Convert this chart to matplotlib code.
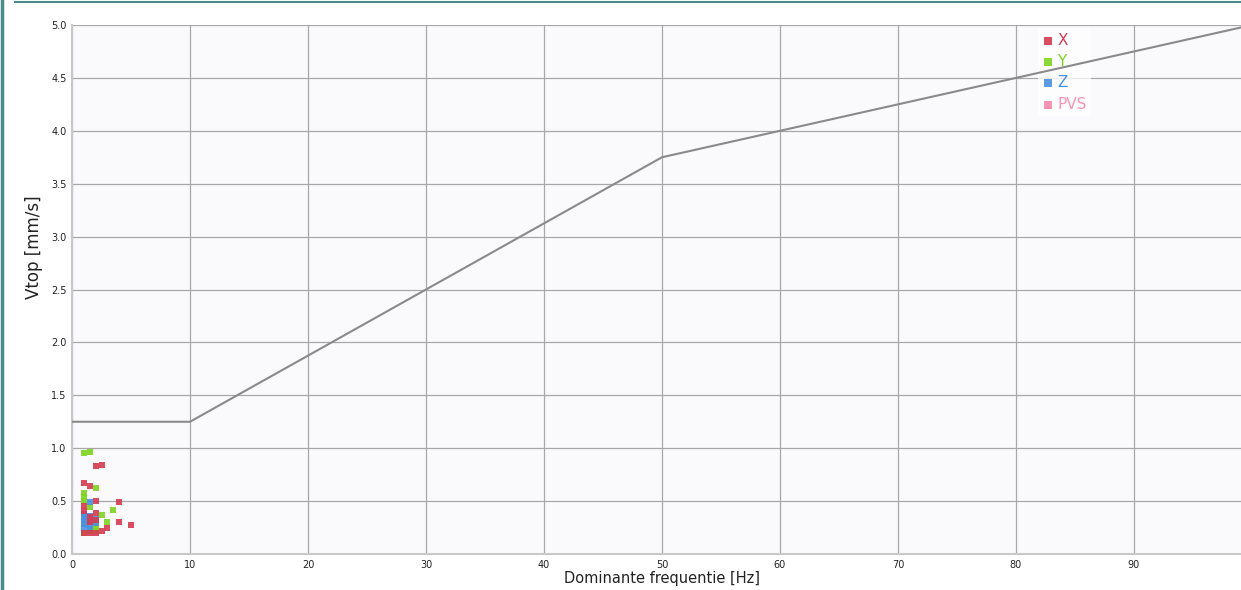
import matplotlib
matplotlib.use('Agg')
import matplotlib.pyplot as plt
from matplotlib.lines import Line2D

# grenslijn (SBR-richtlijn)
limit_f = [0, 10, 50, 100]
limit_v = [1.25, 1.25, 3.75, 5.0]

# metingen: dominante frequentie [Hz] en Vtop [mm/s]
x_f = [1.0, 1.5, 2.0, 2.5, 2.0, 4.0, 1.0, 1.0, 2.0, 1.5, 2.0, 3.0, 2.5, 4.0, 5.0, 1.0, 1.5, 2.0, 1.5]
x_v = [0.67, 0.64, 0.83, 0.84, 0.50, 0.49, 0.45, 0.41, 0.39, 0.30, 0.32, 0.25, 0.22, 0.30, 0.27, 0.20, 0.20, 0.20, 0.35]

y_f = [1.0, 1.5, 2.0, 1.0, 1.0, 1.0, 1.5, 3.5, 2.5, 3.0, 1.0, 1.5, 2.0, 2.0, 1.0, 2.0]
y_v = [0.95, 0.96, 0.62, 0.58, 0.54, 0.50, 0.44, 0.42, 0.37, 0.30, 0.20, 0.22, 0.22, 0.28, 0.30, 0.25]

z_f = [1.5, 1.0, 1.0, 1.0, 1.0, 1.0, 1.5, 1.5, 1.5, 2.0, 2.0, 1.5]
z_v = [0.49, 0.38, 0.35, 0.32, 0.28, 0.25, 0.36, 0.30, 0.27, 0.33, 0.29, 0.24]

pvs_f = []
pvs_v = []

c_x = '#d63a4f'
c_y = '#7ed321'
c_z = '#4a90e2'
c_pvs = '#f895b5'

fig = plt.figure(figsize=(12.41, 5.90), dpi=100)
ax = fig.add_axes([72 / 1241, 36 / 590, 1180 / 1241, 529 / 590])
ax.set_facecolor('#fafafd')

ax.plot(limit_f, limit_v, color='#8a8a8a', linewidth=1.5, zorder=6)

ms = 14
ax.scatter(x_f, x_v, marker='s', s=ms, color=c_x, label='X', zorder=4, linewidths=0, alpha=0.9)
ax.scatter(y_f, y_v, marker='s', s=ms, color=c_y, label='Y', zorder=3, linewidths=0, alpha=0.9)
ax.scatter(z_f, z_v, marker='s', s=ms, color=c_z, label='Z', zorder=3, linewidths=0, alpha=0.9)
ax.scatter(pvs_f, pvs_v, marker='s', s=ms, color=c_pvs, label='PVS', zorder=3, linewidths=0)

ax.set_xlim(0, 100)
ax.set_ylim(0, 5)
ax.set_xticks(range(0, 101, 10))
ax.set_yticks([i * 0.5 for i in range(11)])
ax.set_yticklabels(['%.1f' % (i * 0.5) for i in range(11)])
ax.tick_params(length=0, labelsize=7, colors='#222222', pad=4)
ax.grid(True, color='#a8a8a8', linewidth=0.9)
ax.set_axisbelow(True)

for s in ['top', 'right']:
    ax.spines[s].set_visible(False)
for s in ['left', 'bottom']:
    ax.spines[s].set_color('#c8c8c8')
    ax.spines[s].set_linewidth(1.5)

ax.set_xlabel('Dominante frequentie [Hz]', fontsize=10.5, color='#222222', labelpad=1)
ax.set_ylabel('Vtop [mm/s]', fontsize=12, color='#222222')
ax.yaxis.set_label_coords(-29 / 1180, 0.58)

leg = ax.legend(loc='upper left', bbox_to_anchor=(958 / 1180, 1.0 + 4 / 529), frameon=True,
                fancybox=False, framealpha=0.75, edgecolor='none', fontsize=11,
                handletextpad=0.2, labelspacing=0.4, borderpad=0.3, handlelength=0.8,
                markerscale=1.4)
for txt, c in zip(leg.get_texts(), [c_x, c_y, c_z, c_pvs]):
    txt.set_color(c)

# rand van het venster
fig.add_artist(Line2D([0.0015, 0.0015], [0, 1], transform=fig.transFigure, color='#4a8a8c', linewidth=2.5))
fig.add_artist(Line2D([15 / 1241, 1], [1 - 2 / 590, 1 - 2 / 590], transform=fig.transFigure, color='#4a8a8c', linewidth=1.5))

fig.savefig('out.png', dpi=100)
